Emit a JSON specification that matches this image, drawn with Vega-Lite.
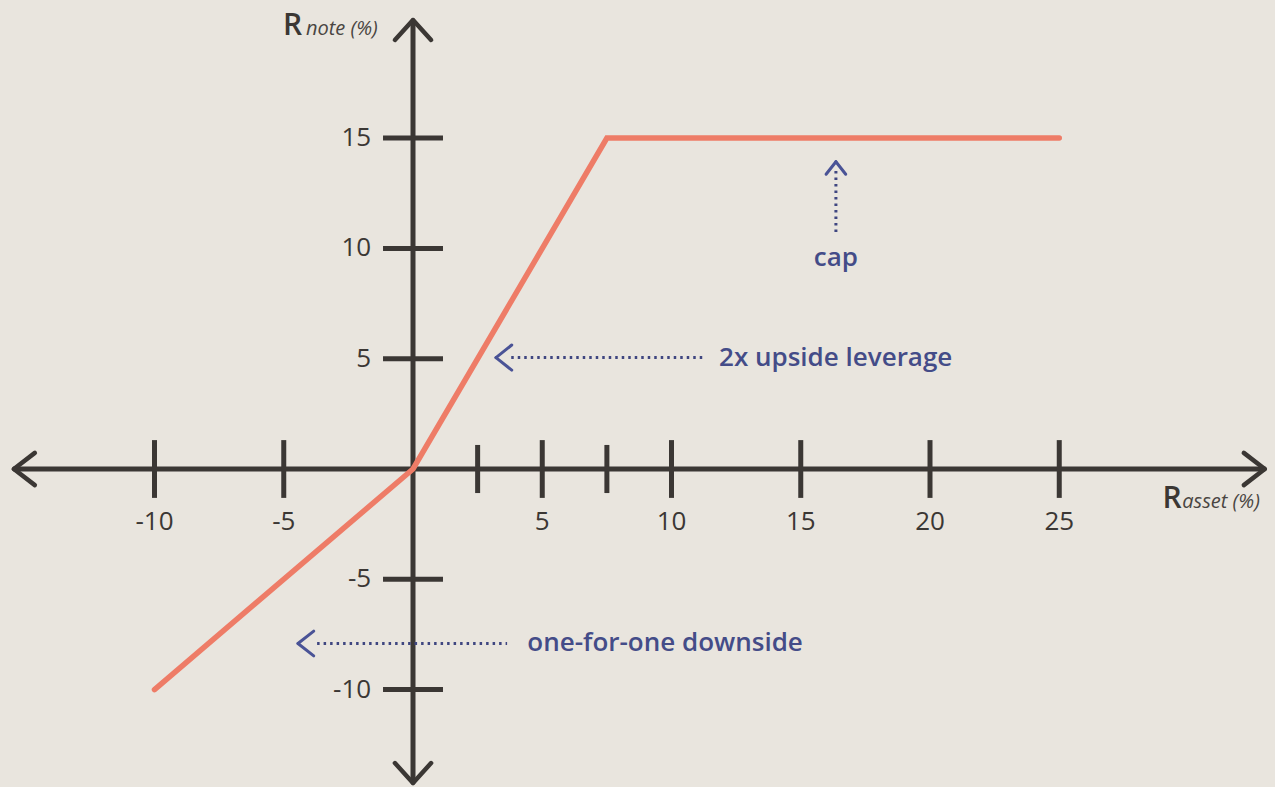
{
  "$schema": "https://vega.github.io/schema/vega-lite/v6.json",
  "width": 1275,
  "height": 787,
  "autosize": {"type": "fit", "contains": "padding"},
  "padding": 0,
  "background": "#e9e5de",
  "config": {"view": {"stroke": null}, "font": "Open Sans"},
  "datasets": {
    "axes": [
      {"x": -15.44, "y": 0, "x2": 32.95, "y2": 0},
      {"x": 0, "y": 20.35, "x2": 0, "y2": -14.23}
    ],
    "axisHeads": [
      {"x": 32.95, "y": 0, "x2": 32.14, "y2": 0.73},
      {"x": 32.95, "y": 0, "x2": 32.14, "y2": -0.73},
      {"x": -15.44, "y": 0, "x2": -14.63, "y2": 0.73},
      {"x": -15.44, "y": 0, "x2": -14.63, "y2": -0.73},
      {"x": 0, "y": 20.35, "x2": -0.7, "y2": 19.45},
      {"x": 0, "y": 20.35, "x2": 0.7, "y2": 19.45},
      {"x": 0, "y": -14.23, "x2": -0.7, "y2": -13.33},
      {"x": 0, "y": -14.23, "x2": 0.7, "y2": -13.33}
    ],
    "ticks": [
      {"x": -10, "y": -1.31, "x2": -10, "y2": 1.31},
      {"x": -5, "y": -1.31, "x2": -5, "y2": 1.31},
      {"x": 2.5, "y": -1.09, "x2": 2.5, "y2": 1.09},
      {"x": 5, "y": -1.31, "x2": 5, "y2": 1.31},
      {"x": 7.5, "y": -1.09, "x2": 7.5, "y2": 1.09},
      {"x": 10, "y": -1.31, "x2": 10, "y2": 1.31},
      {"x": 15, "y": -1.31, "x2": 15, "y2": 1.31},
      {"x": 20, "y": -1.31, "x2": 20, "y2": 1.31},
      {"x": 25, "y": -1.31, "x2": 25, "y2": 1.31},
      {"x": -1.16, "y": 15, "x2": 1.16, "y2": 15},
      {"x": -1.16, "y": 10, "x2": 1.16, "y2": 10},
      {"x": -1.16, "y": 5, "x2": 1.16, "y2": 5},
      {"x": -1.16, "y": -5, "x2": 1.16, "y2": -5},
      {"x": -1.16, "y": -10, "x2": 1.16, "y2": -10}
    ],
    "xLabels": [
      {"x": -10, "y": -2.4, "t": "-10"},
      {"x": -5, "y": -2.4, "t": "-5"},
      {"x": 5, "y": -2.4, "t": "5"},
      {"x": 10, "y": -2.4, "t": "10"},
      {"x": 15, "y": -2.4, "t": "15"},
      {"x": 20, "y": -2.4, "t": "20"},
      {"x": 25, "y": -2.4, "t": "25"}
    ],
    "yLabels": [
      {"x": -1.62, "y": 15, "t": "15"},
      {"x": -1.62, "y": 10, "t": "10"},
      {"x": -1.62, "y": 5, "t": "5"},
      {"x": -1.62, "y": -5, "t": "-5"},
      {"x": -1.62, "y": -10, "t": "-10"}
    ],
    "payoff": [
      {"x": -10, "y": -10},
      {"x": 0, "y": 0},
      {"x": 7.5, "y": 15},
      {"x": 25, "y": 15}
    ],
    "dots": [
      {"x": 16.36, "y": 10.74, "x2": 16.36, "y2": 13.6},
      {"x": 3.8, "y": 5.05, "x2": 11.2, "y2": 5.05},
      {"x": -3.71, "y": -7.91, "x2": 3.64, "y2": -7.91}
    ],
    "blueHeads": [
      {"x": 16.36, "y": 13.93, "x2": 15.98, "y2": 13.36},
      {"x": 16.36, "y": 13.93, "x2": 16.74, "y2": 13.36},
      {"x": 3.21, "y": 5.05, "x2": 3.82, "y2": 5.62},
      {"x": 3.21, "y": 5.05, "x2": 3.82, "y2": 4.48},
      {"x": -4.45, "y": -7.91, "x2": -3.84, "y2": -7.35},
      {"x": -4.45, "y": -7.91, "x2": -3.84, "y2": -8.47}
    ],
    "noteCenter": [
      {"x": 16.36, "y": 9.2, "t": "cap"}
    ],
    "noteLeft": [
      {"x": 11.84, "y": 4.68, "t": "2x upside leverage"},
      {"x": 4.42, "y": -8.25, "t": "one-for-one downside"}
    ],
    "bigR": [
      {"x": -5.03, "y": 19.67, "t": "R"},
      {"x": 28.99, "y": -1.77, "t": "R"}
    ],
    "subs": [
      {"x": -4.14, "y": 19.67, "t": "note (%)"},
      {"x": 29.76, "y": -1.77, "t": "asset (%)"}
    ]
  },
  "encoding": {
    "x": {"field": "x", "type": "quantitative", "scale": {"domain": [-15.977, 33.346], "nice": false, "zero": false}, "axis": null},
    "y": {"field": "y", "type": "quantitative", "scale": {"domain": [-14.415, 21.26], "nice": false, "zero": false}, "axis": null}
  },
  "layer": [
    {
      "data": {"name": "axes"},
      "mark": {"type": "rule", "color": "#3b3734", "strokeWidth": 5},
      "encoding": {"x2": {"field": "x2"}, "y2": {"field": "y2"}}
    },
    {
      "data": {"name": "axisHeads"},
      "mark": {"type": "rule", "color": "#3b3734", "strokeWidth": 4.5, "strokeCap": "round"},
      "encoding": {"x2": {"field": "x2"}, "y2": {"field": "y2"}}
    },
    {
      "data": {"name": "ticks"},
      "mark": {"type": "rule", "color": "#3b3734", "strokeWidth": 5},
      "encoding": {"x2": {"field": "x2"}, "y2": {"field": "y2"}}
    },
    {
      "data": {"name": "xLabels"},
      "mark": {"type": "text", "color": "#3b3734", "fontSize": 26, "fontWeight": 500, "align": "center", "baseline": "middle"},
      "encoding": {"text": {"field": "t"}}
    },
    {
      "data": {"name": "yLabels"},
      "mark": {"type": "text", "color": "#3b3734", "fontSize": 26, "fontWeight": 500, "align": "right", "baseline": "middle"},
      "encoding": {"text": {"field": "t"}}
    },
    {
      "data": {"name": "payoff"},
      "mark": {"type": "line", "color": "#ee7c67", "strokeWidth": 5.5, "strokeCap": "round"},
      "encoding": {}
    },
    {
      "data": {"name": "dots"},
      "mark": {"type": "rule", "color": "#3f4680", "strokeWidth": 3, "strokeDash": [2.5, 4]},
      "encoding": {"x2": {"field": "x2"}, "y2": {"field": "y2"}}
    },
    {
      "data": {"name": "blueHeads"},
      "mark": {"type": "rule", "color": "#4a5396", "strokeWidth": 3, "strokeCap": "round"},
      "encoding": {"x2": {"field": "x2"}, "y2": {"field": "y2"}}
    },
    {
      "data": {"name": "noteCenter"},
      "mark": {"type": "text", "color": "#444c88", "fontSize": 26, "fontWeight": 600, "align": "center", "baseline": "alphabetic"},
      "encoding": {"text": {"field": "t"}}
    },
    {
      "data": {"name": "noteLeft"},
      "mark": {"type": "text", "color": "#444c88", "fontSize": 26, "fontWeight": 600, "align": "left", "baseline": "alphabetic"},
      "encoding": {"text": {"field": "t"}}
    },
    {
      "data": {"name": "bigR"},
      "mark": {"type": "text", "color": "#3b3734", "fontSize": 30, "fontWeight": 600, "align": "left", "baseline": "alphabetic"},
      "encoding": {"text": {"field": "t"}}
    },
    {
      "data": {"name": "subs"},
      "mark": {"type": "text", "color": "#4a4542", "fontSize": 20, "fontStyle": "italic", "align": "left", "baseline": "alphabetic"},
      "encoding": {"text": {"field": "t"}}
    }
  ]
}
